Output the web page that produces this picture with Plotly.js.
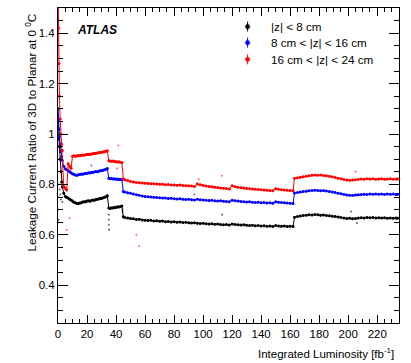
<!DOCTYPE html>
<html>
<head>
<meta charset="utf-8">
<script src="https://cdn.plot.ly/plotly-3.0.1.min.js"></script>
<style>
  html, body { margin: 0; padding: 0; background: #fff; }
  #chart { width: 411px; height: 363px; }
</style>
</head>
<body>
<div id="chart"></div>
<script>
// integrated luminosity [fb^-1]
var lumi = [0.1, 0.3, 0.6, 1, 1.5, 2, 2.5, 3,
  4, 5, 6, 7, 8, 9, 10, 11, 12, 13, 14, 15, 16, 17, 18, 19, 20, 21, 22, 23, 24, 25,
  26, 27, 28, 29, 30, 31, 32, 33, 34, 35, 36, 37, 38, 39, 40, 41, 42, 43, 44, 45, 46,
  48, 50, 52, 54, 56, 58, 60, 62, 64, 66, 68, 70, 72, 74, 76, 78, 80, 82, 84, 86, 88,
  90, 92, 94, 96, 98, 100, 102, 104, 106, 108, 110, 112, 114, 116, 118, 120, 122, 124,
  126, 128, 130, 132, 134, 136, 138, 140, 142, 144, 146, 148, 150, 152, 154, 156, 158, 160,
  162, 163,
  165, 167, 169, 171, 173, 175, 177, 179, 181, 183, 185, 187, 189, 191, 193, 195, 197,
  199, 201, 203, 205, 207, 209, 211, 213, 215, 217, 219, 221, 223, 225, 227, 229, 231, 233,
  234];

// |z| < 8 cm
var ratioInner = [1.06, 1.02, 0.98, 0.95, 0.90, 0.85, 0.81, 0.79,
  0.765, 0.752, 0.749, 0.746, 0.741, 0.738, 0.734, 0.729, 0.727, 0.724, 0.723, 0.726,
  0.727, 0.730, 0.731, 0.731, 0.734, 0.735, 0.733, 0.736, 0.738, 0.737,
  0.740, 0.741, 0.742, 0.745, 0.744, 0.747, 0.749, 0.751, 0.755, 0.706, 0.704, 0.707,
  0.706, 0.709, 0.708, 0.711, 0.710, 0.712, 0.714, 0.672, 0.669,
  0.667, 0.665, 0.664, 0.661, 0.662, 0.659, 0.658, 0.657, 0.658, 0.655, 0.656, 0.654,
  0.655, 0.652, 0.653, 0.651, 0.652, 0.650, 0.651, 0.649, 0.650,
  0.648, 0.647, 0.648, 0.646, 0.645, 0.646, 0.644, 0.643, 0.644, 0.642, 0.643, 0.641,
  0.640, 0.641, 0.639, 0.643, 0.641, 0.640,
  0.639, 0.640, 0.638, 0.637, 0.638, 0.636, 0.637, 0.635, 0.636, 0.634, 0.635, 0.633,
  0.637, 0.635, 0.634, 0.635, 0.633, 0.634,
  0.633, 0.670,
  0.673, 0.675, 0.677, 0.678, 0.680, 0.679, 0.681, 0.680, 0.678, 0.679, 0.677, 0.676,
  0.674, 0.673, 0.671, 0.669, 0.667,
  0.665, 0.666, 0.664, 0.665, 0.667, 0.668, 0.667, 0.669, 0.668, 0.669, 0.667, 0.668,
  0.667, 0.668, 0.666, 0.667, 0.666, 0.667,
  0.666];

// 8 cm < |z| < 16 cm
var ratioMiddle = [1.10, 1.06, 1.02, 0.99, 0.96, 0.93, 0.91, 0.895,
  0.872, 0.862, 0.858, 0.855, 0.850, 0.846, 0.842, 0.839, 0.837, 0.836, 0.838, 0.839,
  0.841, 0.840, 0.842, 0.843, 0.844, 0.846, 0.845, 0.847, 0.848, 0.849,
  0.851, 0.850, 0.852, 0.854, 0.855, 0.856, 0.858, 0.860, 0.863, 0.824, 0.822, 0.823,
  0.821, 0.822, 0.820, 0.821, 0.819, 0.820, 0.818, 0.772, 0.770,
  0.767, 0.765, 0.762, 0.759, 0.757, 0.754, 0.752, 0.751, 0.750, 0.749, 0.748, 0.747,
  0.746, 0.746, 0.744, 0.745, 0.743, 0.742, 0.743, 0.741, 0.740,
  0.741, 0.739, 0.738, 0.741, 0.739, 0.738, 0.737, 0.736, 0.737, 0.735, 0.734, 0.735,
  0.733, 0.732, 0.731, 0.737, 0.735, 0.734,
  0.732, 0.731, 0.730, 0.731, 0.729, 0.728, 0.729, 0.727, 0.728, 0.726, 0.727, 0.725,
  0.731, 0.729, 0.728, 0.727, 0.726, 0.725,
  0.724, 0.766,
  0.768, 0.770, 0.772, 0.773, 0.775, 0.776, 0.777, 0.776, 0.775, 0.776, 0.774, 0.772,
  0.770, 0.768, 0.765, 0.763, 0.760,
  0.758, 0.757, 0.756, 0.758, 0.759, 0.760, 0.761, 0.760, 0.762, 0.761, 0.762, 0.761,
  0.762, 0.760, 0.762, 0.761, 0.762, 0.760,
  0.761];

// 16 cm < |z| < 24 cm
var ratioOuter = [1.55, 1.42, 1.28, 1.15, 1.06, 1.00, 0.96, 0.935,
  0.792, 0.785, 0.778, 0.882, 0.872, 0.864, 0.912, 0.914, 0.912, 0.913, 0.915, 0.914,
  0.916, 0.917, 0.916, 0.918, 0.919, 0.920, 0.919, 0.921, 0.922, 0.923,
  0.924, 0.925, 0.926, 0.927, 0.928, 0.929, 0.930, 0.932, 0.934, 0.894, 0.893, 0.892,
  0.893, 0.891, 0.890, 0.889, 0.890, 0.888, 0.887, 0.822, 0.818,
  0.815, 0.812, 0.810, 0.808, 0.807, 0.806, 0.805, 0.804, 0.803, 0.803, 0.802, 0.801,
  0.801, 0.799, 0.800, 0.798, 0.798, 0.797, 0.798, 0.796, 0.795,
  0.795, 0.794, 0.792, 0.802, 0.799, 0.796, 0.794, 0.792, 0.791, 0.789, 0.788, 0.786,
  0.785, 0.784, 0.782, 0.795, 0.791, 0.789,
  0.787, 0.786, 0.784, 0.783, 0.782, 0.781, 0.780, 0.779, 0.778, 0.777, 0.776, 0.775,
  0.783, 0.781, 0.779, 0.778, 0.777, 0.776,
  0.775, 0.824,
  0.826, 0.828, 0.830, 0.832, 0.834, 0.836, 0.837, 0.836, 0.837, 0.835, 0.834, 0.832,
  0.830, 0.827, 0.824, 0.822, 0.819,
  0.817, 0.816, 0.817, 0.818, 0.820, 0.821, 0.820, 0.822, 0.821, 0.822, 0.820, 0.821,
  0.822, 0.820, 0.821, 0.822, 0.820, 0.821,
  0.821];

// stray points away from the bands
var innerStrayX = [0.1, 0.1, 0.1, 0.5, 1, 1.5, 2, 3, 35, 35, 35, 35.2, 44.5, 44.5, 113, 202, 206];
var innerStrayY = [0.65, 0.70, 0.75, 0.66, 0.78, 0.76, 0.74, 0.73, 0.68, 0.66, 0.64, 0.62, 0.69, 0.70, 0.68, 0.692, 0.647];
var middleStrayX = [0.5, 23, 94];
var middleStrayY = [0.80, 0.875, 0.76];
var outerStrayX = [6, 8, 40.7, 41.6, 54, 56, 97, 113, 205];
var outerStrayY = [0.62, 0.666, 0.863, 0.954, 0.60, 0.555, 0.82, 0.834, 0.851];

var names = ['|z| < 8 cm', '8 cm < |z| < 16 cm', '16 cm < |z| < 24 cm'];
var colors = ['#000000', '#0000ff', '#ff0000'];

function band(y, color) {
  return {
    x: lumi, y: y, type: 'scatter', mode: 'lines+markers',
    line: {color: color, width: 1},
    marker: {color: color, size: 3},
    error_y: {type: 'constant', value: 0.004, width: 0, thickness: 1, color: color},
    showlegend: false, hoverinfo: 'skip'
  };
}
function stray(x, y, color) {
  return {
    x: x, y: y, type: 'scatter', mode: 'markers',
    marker: {color: color, size: 2, opacity: 0.6},
    showlegend: false, hoverinfo: 'skip'
  };
}

var data = [
  band(ratioInner, colors[0]),
  band(ratioMiddle, colors[1]),
  band(ratioOuter, colors[2]),
  stray(innerStrayX, innerStrayY, colors[0]),
  stray(middleStrayX, middleStrayY, colors[1]),
  stray(outerStrayX, outerStrayY, colors[2])
];

// legend drawn by hand: dot with small error bar, then label
var keyX = 0.556, textX = 0.619;
var keyRows = [0.941, 0.890, 0.837];
var shapes = [], annotations = [];
for (var i = 0; i < 3; i++) {
  shapes.push({type: 'line', xref: 'paper', yref: 'paper', ysizemode: 'pixel', yanchor: keyRows[i],
    x0: keyX, x1: keyX, y0: -5, y1: 5, line: {color: colors[i], width: 1}});
  shapes.push({type: 'circle', xref: 'paper', yref: 'paper', xsizemode: 'pixel', ysizemode: 'pixel',
    xanchor: keyX, yanchor: keyRows[i], x0: -2.2, x1: 2.2, y0: -2.2, y1: 2.2,
    fillcolor: colors[i], line: {color: colors[i], width: 0.5}});
  annotations.push({text: names[i], xref: 'paper', yref: 'paper', x: textX, y: keyRows[i],
    xanchor: 'left', yanchor: 'middle', showarrow: false, font: {size: 11.7}});
}

annotations.push(
  {text: '<b><i>ATLAS</i></b>', xref: 'paper', yref: 'paper', x: 0.05, y: 0.93,
   xanchor: 'left', yanchor: 'middle', showarrow: false, font: {size: 12}},
  {text: 'Integrated Luminosity [fb<sup>-1</sup>]', xref: 'paper', yref: 'paper',
   x: 0.991, y: -0.095, xanchor: 'right', yanchor: 'middle', showarrow: false,
   font: {size: 11.5}},
  {text: 'Leakage Current Ratio of 3D to Planar at 0 <sup>0</sup>C', xref: 'paper', yref: 'paper',
   x: -0.08, y: 0.988, xanchor: 'center', yanchor: 'top', textangle: -90, showarrow: false,
   font: {size: 11.7}}
);

var layout = {
  width: 411, height: 363,
  margin: {l: 58, r: 12, t: 8, b: 40},
  paper_bgcolor: '#ffffff', plot_bgcolor: '#ffffff',
  font: {family: 'Liberation Sans, Arial, sans-serif', size: 11.5, color: '#000'},
  showlegend: false,
  xaxis: {
    range: [0, 235], dtick: 20, tick0: 0,
    ticks: 'inside', ticklen: 8, tickcolor: '#000',
    showline: true, linecolor: '#000', linewidth: 1, mirror: 'ticks',
    showgrid: false, zeroline: false,
    minor: {dtick: 5, ticks: 'inside', ticklen: 4, tickcolor: '#000', showgrid: false}
  },
  yaxis: {
    range: [0.25, 1.5], dtick: 0.2, tick0: 0,
    ticks: 'inside', ticklen: 10, tickcolor: '#000',
    showline: true, linecolor: '#000', linewidth: 1, mirror: 'ticks',
    showgrid: false, zeroline: false,
    minor: {dtick: 0.05, ticks: 'inside', ticklen: 5, tickcolor: '#000', showgrid: false}
  },
  shapes: shapes,
  annotations: annotations
};

Plotly.newPlot('chart', data, layout, {displayModeBar: false, staticPlot: true});
</script>
</body>
</html>
